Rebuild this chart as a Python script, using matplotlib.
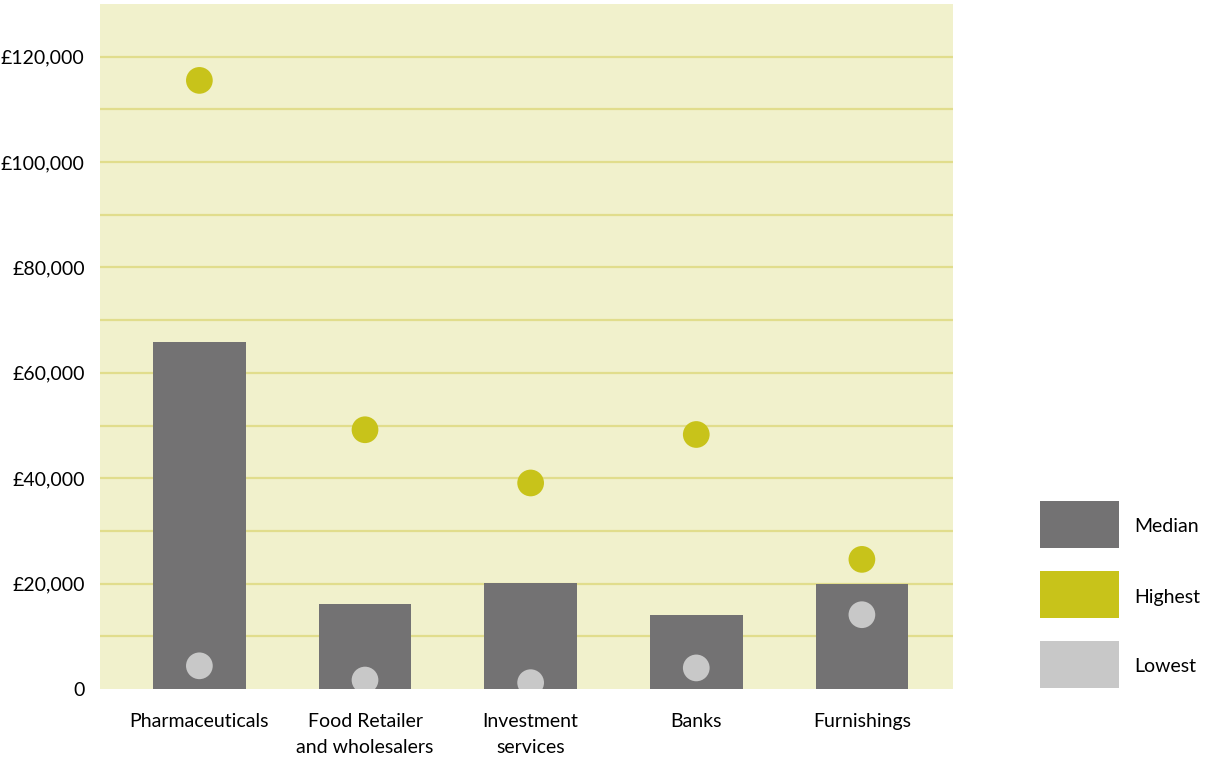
# Salary ranges by sector - median bar with highest / lowest dots
import numpy as np
import matplotlib.pyplot as plt
from matplotlib.patches import Rectangle
from matplotlib.ticker import FixedLocator, FuncFormatter

plt.rcParams['font.family'] = ['Lato', 'DejaVu Sans']

# data
sectors = ['Pharmaceuticals', 'Food Retailer\nand wholesalers', 'Investment\nservices',
           'Banks', 'Furnishings']
median = [65900, 16200, 20200, 14100, 20000]
highest = [115500, 49200, 39100, 48300, 24600]
lowest = [4400, 1700, 1200, 4000, 14100]
legend_labels = ['Median', 'Highest', 'Lowest']

c_median = '#737273'
c_high = '#c8c31a'
c_low = '#c8c8c8'
c_bg = '#f1f1cc'
c_grid = '#e1dd8c'

W, H = 1206, 758
fig = plt.figure(figsize=(W / 100, H / 100), dpi=100)
ax = fig.add_axes([100 / W, 69 / H, 853 / W, 685 / H])
ax.set_facecolor(c_bg)

x = np.arange(len(sectors))
ax.bar(x, median, width=0.56, color=c_median, zorder=2)
ax.scatter(x, highest, s=370, color=c_high, edgecolors='none', zorder=3)
ax.scatter(x, lowest, s=370, color=c_low, edgecolors='none', zorder=3)

ax.set_xlim(-0.6, 4.55)
ax.set_ylim(0, 130000)
for g in range(10000, 130000, 10000):
    ax.axhline(g, color=c_grid, linewidth=1.6, zorder=1)
ax.yaxis.set_major_locator(FixedLocator(range(0, 130000, 20000)))
ax.yaxis.set_major_formatter(FuncFormatter(lambda v, p: '0' if v == 0 else '£{:,.0f}'.format(v)))

ax.set_xticks(x)
ax.set_xticklabels(sectors, fontsize=14, linespacing=1.7, va='top')
ax.tick_params(axis='x', length=0, pad=17)
ax.tick_params(axis='y', length=0, pad=11, labelsize=14)
for s in ax.spines.values():
    s.set_visible(False)

# legend on the right, drawn as boxes + labels
legend_colors = [c_median, c_high, c_low]
for i, (lab, col) in enumerate(zip(legend_labels, legend_colors)):
    top = 501 + 70 * i
    fig.add_artist(Rectangle((1040 / W, 1 - (top + 47) / H), 79 / W, 47 / H,
                             transform=fig.transFigure, color=col, linewidth=0))
    fig.text(1134 / W, 1 - (top + 26) / H, lab, fontsize=14, va='center', ha='left')

fig.savefig('out.png', dpi=100)
